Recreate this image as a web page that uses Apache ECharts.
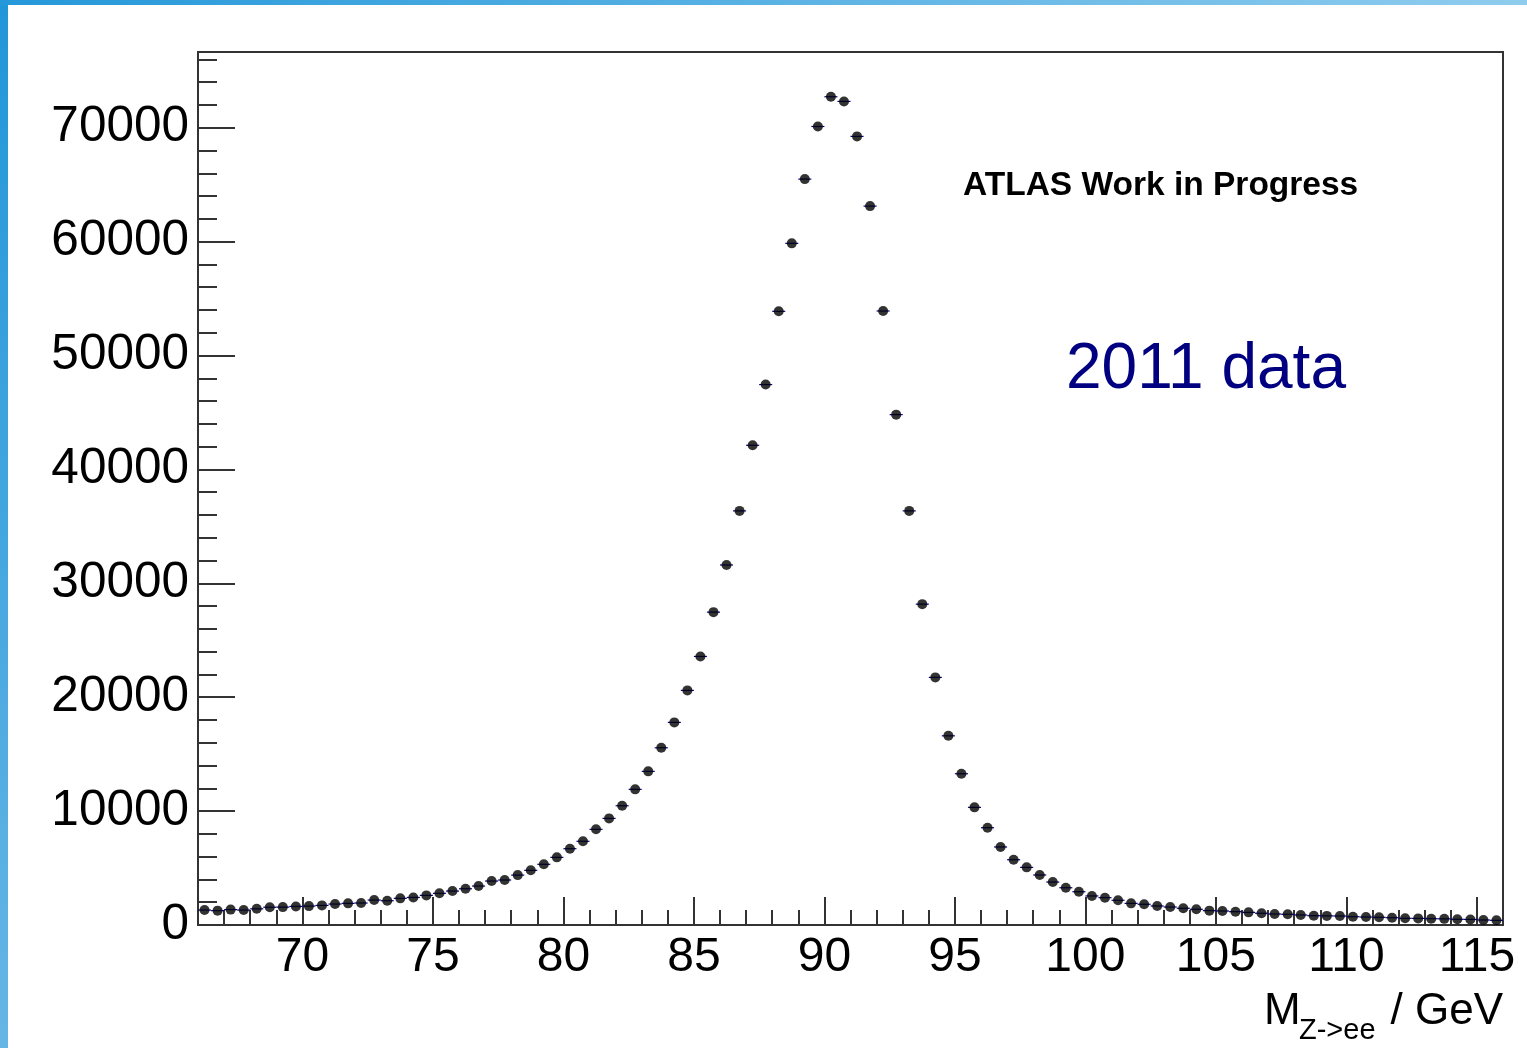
<!DOCTYPE html>
<html>
<head>
<meta charset="utf-8">
<script src="https://cdn.jsdelivr.net/npm/echarts@6/dist/echarts.min.js"></script>
<style>
  html, body { margin: 0; padding: 0; background: #fff; }
  #chart { width: 1527px; height: 1048px; }
</style>
</head>
<body>
<div id="chart"></div>
<script>
// ---- Data ----
const massMin = 66;          // GeV, lower edge of first bin
const massMax = 116;         // GeV, upper edge of last bin
const binWidth = 0.5;        // GeV
const counts = [
  1310, 1260, 1350, 1310, 1420, 1560, 1570, 1630, 1660, 1720,
  1840, 1900, 1930, 2190, 2130, 2340, 2420, 2600, 2780, 2980,
  3180, 3420, 3860, 3950, 4380, 4800, 5330, 5940, 6700, 7350,
  8400, 9360, 10470, 11910, 13490, 15560, 17790, 20600, 23580, 27470,
  31610, 36360, 42120, 47450, 53880, 59850, 65490, 70110, 72720, 72310,
  69240, 63120, 53910, 44810, 36360, 28170, 21740, 16610, 13280, 10330,
  8540, 6850, 5730, 5060, 4390, 3770, 3270, 2920, 2550, 2400,
  2170, 1900, 1820, 1670, 1580, 1470, 1380, 1260, 1230, 1170,
  1110, 1030, 965, 940, 880, 816, 800, 790, 728, 700,
  676, 641, 588, 580, 553, 540, 500, 490, 439, 412
];
const xTickLabels = [70, 75, 80, 85, 90, 95, 100, 105, 110, 115];
const yTickLabels = [0, 10000, 20000, 30000, 40000, 50000, 60000, 70000];
const yMax = 76650;
const xMinorStep = 1;
const yMinorStep = 2000;

// ---- Build series data ----
const points = counts.map((c, i) => [massMin + binWidth * (i + 0.5), c]);
const xMinor = [];
for (let v = massMin + xMinorStep; v < massMax; v += xMinorStep) xMinor.push(v);
const yMinor = [];
for (let v = yMinorStep; v < yMax; v += yMinorStep) yMinor.push(v);

const FONT = "'Liberation Sans', Arial, Helvetica, sans-serif";
const AX = '#333';

const chart = echarts.init(document.getElementById('chart'), null, { renderer: 'canvas' });
chart.setOption({
  animation: false,
  backgroundColor: '#ffffff',
  grid: {
    left: 198, right: 24, top: 52, bottom: 123,
    show: true, borderColor: AX, borderWidth: 2,
    containLabel: false, outerBoundsMode: 'none'
  },
  xAxis: [
    {
      type: 'value', min: massMin, max: massMax, position: 'bottom',
      axisLine: { show: true, onZero: false, lineStyle: { color: AX, width: 2 } },
      axisTick: { show: true, inside: true, length: 28, customValues: xTickLabels, lineStyle: { color: AX, width: 2 } },
      axisLabel: { show: true, customValues: xTickLabels, fontSize: 48, fontFamily: FONT, color: '#000', margin: 9,
                   formatter: v => String(v) },
      splitLine: { show: false }
    },
    {
      type: 'value', min: massMin, max: massMax, position: 'bottom',
      axisLine: { show: false },
      axisTick: { show: true, inside: true, length: 15, customValues: xMinor, lineStyle: { color: AX, width: 2 } },
      axisLabel: { show: false },
      splitLine: { show: false }
    }
  ],
  yAxis: [
    {
      type: 'value', min: 0, max: yMax, position: 'left',
      axisLine: { show: true, onZero: false, lineStyle: { color: AX, width: 2 } },
      axisTick: { show: true, inside: true, length: 37, customValues: yTickLabels, lineStyle: { color: AX, width: 2 } },
      axisLabel: { show: true, customValues: yTickLabels, fontSize: 49.5, fontFamily: FONT, color: '#000', margin: 9,
                   formatter: v => String(v) },
      splitLine: { show: false }
    },
    {
      type: 'value', min: 0, max: yMax, position: 'left',
      axisLine: { show: false },
      axisTick: { show: true, inside: true, length: 19, customValues: yMinor, lineStyle: { color: AX, width: 2 } },
      axisLabel: { show: false },
      splitLine: { show: false }
    }
  ],
  series: [
    {
      type: 'custom',
      xAxisIndex: 0, yAxisIndex: 0,
      data: points,
      z: 2,
      silent: true,
      renderItem: function (params, api) {
        const x = api.value(0), y = api.value(1);
        const p1 = api.coord([x - binWidth / 2, y]);
        const p2 = api.coord([x + binWidth / 2, y]);
        return {
          type: 'line',
          shape: { x1: p1[0], y1: p1[1], x2: p2[0], y2: p2[1] },
          style: { stroke: '#00008b', lineWidth: 1.2 }
        };
      }
    },
    {
      type: 'scatter',
      xAxisIndex: 0, yAxisIndex: 0,
      data: points,
      symbol: 'circle',
      symbolSize: 10,
      itemStyle: { color: '#000' },
      z: 3,
      silent: true
    }
  ],
  graphic: [
    {
      type: 'rect', left: 0, top: 0, z: 10,
      shape: { width: 8, height: 1048 },
      style: { fill: new echarts.graphic.LinearGradient(0, 0, 0, 1, [
        { offset: 0, color: '#2196d8' }, { offset: 1, color: '#66b6e5' }]) }
    },
    {
      type: 'rect', left: 0, top: 0, z: 10,
      shape: { width: 1527, height: 5 },
      style: { fill: new echarts.graphic.LinearGradient(0, 0, 1, 0, [
        { offset: 0, color: '#2598d9' }, { offset: 1, color: '#8fccee' }]) }
    },
    {
      type: 'text', x: 963, y: 186, z: 10,
      style: { text: 'ATLAS Work in Progress', font: "bold 33.5px " + FONT, fill: '#000',
               textAlign: 'left', textVerticalAlign: 'middle' }
    },
    {
      type: 'text', x: 1066, y: 370, z: 10,
      style: { text: '2011 data', font: "64px " + FONT, fill: '#000080',
               textAlign: 'left', textVerticalAlign: 'middle' }
    },
    {
      type: 'text', x: 1264, y: 1012, z: 10,
      style: { text: 'M', font: "44px " + FONT, fill: '#000',
               textAlign: 'left', textVerticalAlign: 'middle' }
    },
    {
      type: 'text', x: 1299, y: 1031, z: 10,
      style: { text: 'Z->ee', font: "29px " + FONT, fill: '#000',
               textAlign: 'left', textVerticalAlign: 'middle' }
    },
    {
      type: 'text', x: 1503, y: 1012, z: 10,
      style: { text: '/ GeV', font: "44px " + FONT, fill: '#000',
               textAlign: 'right', textVerticalAlign: 'middle' }
    }
  ]
});
</script>
</body>
</html>
